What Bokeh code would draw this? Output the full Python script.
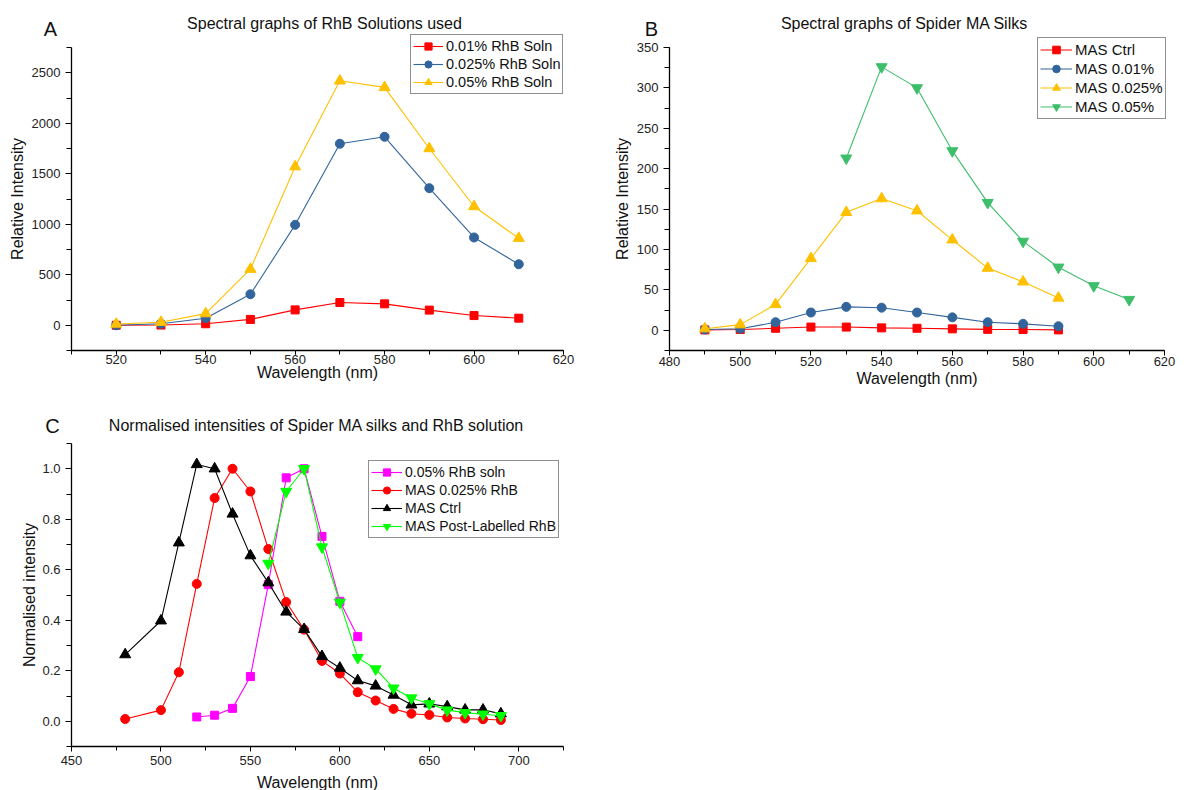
from bokeh.plotting import figure
from bokeh.layouts import column, row
from bokeh.models import Range1d, SingleIntervalTicker, Label, PrintfTickFormatter
from bokeh.embed import file_html
from bokeh.resources import INLINE

FONT = "Liberation Sans"

# ---------------- Data ----------------
# Panel A: RhB solutions
wl_a = [520, 530, 540, 550, 560, 570, 580, 590, 600, 610]
rhb_001 = [0, 2, 15, 58, 152, 225, 212, 150, 96, 70]
rhb_0025 = [0, 15, 70, 307, 994, 1797, 1866, 1357, 869, 604]
rhb_005 = [12, 30, 115, 555, 1570, 2420, 2355, 1750, 1176, 862]

# Panel B: spider MA silks
wl_b = [490, 500, 510, 520, 530, 540, 550, 560, 570, 580, 590]
mas_ctrl = [0.5, 1, 2.5, 4, 4, 3, 2.5, 1.8, 1.2, 1, 0.5]
mas_001 = [1, 2, 10, 22, 29, 28, 22, 16, 10, 8, 5]
mas_0025 = [2, 7, 32, 89, 146, 163, 148, 112, 77, 60, 40]
wl_b_005 = [530, 540, 550, 560, 570, 580, 590, 600, 610]
mas_005 = [213, 326, 300, 222, 158, 110, 78, 55, 38]

# Panel C: normalised intensities
wl_c_soln = [520, 530, 540, 550, 560, 570, 580, 590, 600, 610]
norm_soln = [0.017, 0.024, 0.051, 0.177, 0.541, 0.964, 1.0, 0.732, 0.475, 0.335]
wl_c = [480, 500, 510, 520, 530, 540, 550, 560, 570, 580, 590, 600, 610,
        620, 630, 640, 650, 660, 670, 680, 690]
norm_mas0025 = [0.009, 0.044, 0.194, 0.544, 0.884, 1.0, 0.910, 0.682, 0.472, 0.363,
                0.239, 0.189, 0.115, 0.082, 0.049, 0.030, 0.025, 0.015, 0.011, 0.008, 0.005]
norm_ctrl = [0.264, 0.398, 0.707, 1.017, 1.0, 0.821, 0.656, 0.549, 0.433, 0.364,
             0.257, 0.211, 0.161, 0.140, 0.104, 0.065, 0.069, 0.058, 0.045, 0.045, 0.030]
wl_c_post = [560, 570, 580, 590, 600, 610, 620, 630, 640, 650, 660, 670, 680, 690]
norm_post = [0.625, 0.910, 1.0, 0.690, 0.471, 0.252, 0.207, 0.131, 0.092, 0.069,
             0.044, 0.034, 0.028, 0.022]

RED = "#FF0000"
BLUE = "#31659C"
YELLOW = "#FFC000"
GREEN = "#3DBE6B"
MAGENTA = "#FF00FF"
LIME = "#00FF00"
BLACK = "#000000"


def ext(lo, hi, px_before, px_len, px_after):
    """Extend an axis range so that [lo, hi] occupies px_len pixels with margins."""
    k = px_len / (hi - lo)
    return (lo - px_before / k, hi + px_after / k)


def make_fig(W, H, xr, yr, box, xint, yint, xlabel, ylabel):
    # box = (left, top, right, bottom) pixel position of the axes box inside the figure
    left, top, right, bottom = box
    xs = ext(xr[0], xr[1], left, right - left, W - right)
    ys = ext(yr[0], yr[1], H - bottom, bottom - top, top)
    p = figure(width=W, height=H, x_range=Range1d(*xs), y_range=Range1d(*ys),
               output_backend="svg", toolbar_location=None, title=None,
               min_border_left=0, min_border_right=0, min_border_top=0, min_border_bottom=0)
    p.outline_line_color = None
    p.grid.visible = False
    p.background_fill_color = "white"
    p.border_fill_color = "white"
    p.xaxis.ticker = SingleIntervalTicker(interval=xint, num_minor_ticks=2)
    p.yaxis.ticker = SingleIntervalTicker(interval=yint, num_minor_ticks=2)
    p.xaxis.fixed_location = yr[0]
    p.yaxis.fixed_location = xr[0]
    p.xaxis.bounds = xr
    p.yaxis.bounds = yr
    for ax in (p.xaxis[0], p.yaxis[0]):
        ax.axis_line_color = BLACK
        ax.axis_line_width = 1.3
        ax.major_tick_line_color = BLACK
        ax.minor_tick_line_color = BLACK
        ax.major_tick_in = 0
        ax.minor_tick_in = 0
        ax.major_label_text_font = FONT
        ax.major_label_text_font_size = "13px"
        ax.major_label_text_color = "#222222"
        ax.axis_label_text_font = FONT
        ax.axis_label_text_font_size = "16px"
        ax.axis_label_text_font_style = "normal"
        ax.axis_label_text_color = "#111111"
    p.xaxis.major_tick_out = 5
    p.xaxis.minor_tick_out = 4
    p.yaxis.major_tick_out = 6
    p.yaxis.minor_tick_out = 5
    p.xaxis.major_label_standoff = 1
    p.yaxis.major_label_standoff = 5
    p.xaxis.axis_label = xlabel
    p.yaxis.axis_label = ylabel
    p.xaxis.axis_label_standoff = 1
    p.yaxis.axis_label_standoff = 3
    return p


def series(p, x, y, color, marker, size, label):
    p.line(x, y, line_color=color, line_width=1.1, legend_label=label)
    p.scatter(x, y, marker=marker, size=size, fill_color=color, line_color=color, legend_label=label)


def style_legend(p, loc, fs, gw, gh):
    lg = p.legend[0]
    lg.location = loc
    lg.border_line_color = "#222222"
    lg.border_line_width = 1.3
    lg.padding = 2
    lg.spacing = 0
    lg.margin = 0
    lg.glyph_width = gw
    lg.glyph_height = gh
    lg.label_height = gh
    lg.label_standoff = 3
    lg.label_text_font = FONT
    lg.label_text_font_size = fs
    lg.label_text_color = "#111111"
    lg.background_fill_color = "white"
    lg.background_fill_alpha = 1.0


def add_text(p, x, y, text, size):
    p.add_layout(Label(x=x, y=y, x_units="screen", y_units="screen", text=text,
                       text_font=FONT, text_font_size=size, text_align="center",
                       text_baseline="middle", text_color="#111111"))


# ---------------- Panel A ----------------
WA, HA = 600, 393
pA = make_fig(WA, HA, (510, 620), (-250, 2750), (71, 47, 563, 350), 20, 500,
              "Wavelength (nm)", "Relative Intensity")
pA.xaxis.major_tick_out = 4
pA.xaxis.major_label_standoff = 0
pA.xaxis.axis_label_standoff = -3
series(pA, wl_a, rhb_001, RED, "square", 8, "0.01% RhB Soln")
series(pA, wl_a, rhb_0025, BLUE, "circle", 9, "0.025% RhB Soln")
series(pA, wl_a, rhb_005, YELLOW, "triangle", 11, "0.05% RhB Soln")
style_legend(pA, (410, HA - 94), "14.5px", 30, 18)
add_text(pA, 324, HA - 23, "Spectral graphs of RhB Solutions used", "16px")
add_text(pA, 50, HA - 28, "A", "20px")

# ---------------- Panel B ----------------
WB, HB = 587, 393
pB = make_fig(WB, HB, (480, 620), (-25, 350), (69, 47, 564, 350), 20, 50,
              "Wavelength (nm)", "Relative Intensity")
series(pB, wl_b, mas_ctrl, RED, "square", 8, "MAS Ctrl")
series(pB, wl_b, mas_001, BLUE, "circle", 9, "MAS 0.01%")
series(pB, wl_b, mas_0025, YELLOW, "triangle", 11, "MAS 0.025%")
series(pB, wl_b_005, mas_005, GREEN, "inverted_triangle", 11, "MAS 0.05%")
style_legend(pB, (437, HB - 119), "15px", 32, 19)
add_text(pB, 304, HB - 23, "Spectral graphs of Spider MA Silks", "16px")
add_text(pB, 51, HB - 28, "B", "20px")

# ---------------- Panel C ----------------
WC, HC = 600, 397
pC = make_fig(WC, HC, (450, 725), (-0.1, 1.1), (71, 50, 563, 353), 50, 0.2,
              "Wavelength (nm)", "Normalised intensity")
pC.yaxis.formatter = PrintfTickFormatter(format="%.1f")
pC.xaxis.major_label_standoff = 4
pC.xaxis.axis_label_standoff = 6
pC.yaxis.axis_label_standoff = 1
series(pC, wl_c_soln, norm_soln, MAGENTA, "square", 8, "0.05% RhB soln")
series(pC, wl_c, norm_mas0025, RED, "circle", 9, "MAS 0.025% RhB")
series(pC, wl_c, norm_ctrl, BLACK, "triangle", 11, "MAS Ctrl")
series(pC, wl_c_post, norm_post, LIME, "inverted_triangle", 11, "MAS Post-Labelled RhB")
style_legend(pC, (368, HC - 145), "14px", 31, 18)
add_text(pC, 316, HC - 32, "Normalised intensities of Spider MA silks and RhB solution", "16px")
add_text(pC, 52, HC - 32, "C", "20px")

layout = column(row(pA, pB), pC)
open("out.html", "w").write(file_html(layout, INLINE))
